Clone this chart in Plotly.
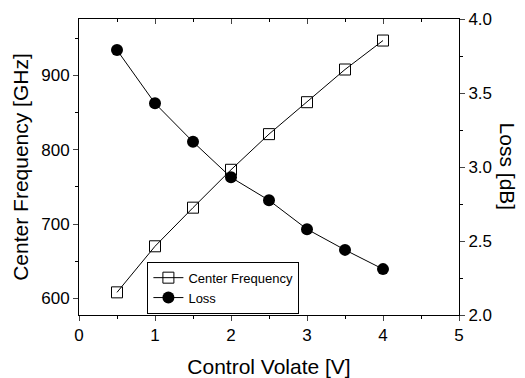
import plotly.graph_objects as go

voltage = [0.5, 1.0, 1.5, 2.0, 2.5, 3.0, 3.5, 4.0]
center_freq = [608, 670, 722, 773, 821, 864, 908, 947]
loss = [3.79, 3.43, 3.17, 2.93, 2.775, 2.58, 2.44, 2.31]

FONT = "Liberation Sans, Arial, sans-serif"

fig = go.Figure()
fig.add_trace(go.Scatter(
    x=voltage, y=center_freq, name="Center Frequency", mode="lines+markers",
    line=dict(color="black", width=1),
    marker=dict(symbol="square-open", size=11, color="black", line=dict(width=1)),
))
fig.add_trace(go.Scatter(
    x=voltage, y=loss, name="Loss", mode="lines+markers", yaxis="y2",
    line=dict(color="black", width=1),
    marker=dict(symbol="circle", size=12, color="black"),
))
# helper (empty) trace to activate top mirror axis
fig.add_trace(go.Scatter(x=[], y=[], xaxis="x2", showlegend=False, hoverinfo="skip"))

fig.update_layout(
    width=525, height=378,
    margin=dict(l=79, r=66, t=19, b=63, autoexpand=False),
    paper_bgcolor="white", plot_bgcolor="white",
    font=dict(family=FONT, color="black", size=17),
    showlegend=True,
    legend=dict(x=0.18, y=0.18, xanchor="left", yanchor="top",
                bgcolor="white", bordercolor="black", borderwidth=1,
                font=dict(size=13, family=FONT), tracegroupgap=0,
                itemwidth=30),
    xaxis=dict(
        range=[0, 5], tickvals=[0, 1, 2, 3, 4, 5], ticks="outside", ticklen=5,
        minor=dict(tickvals=[0.5, 1.5, 2.5, 3.5, 4.5], ticks="outside", ticklen=3, tickcolor="black"),
        showline=True, linecolor="black", linewidth=1, showgrid=False, zeroline=False,
        tickfont=dict(size=17), automargin=False,
        title=dict(text="Control Volate [V]", font=dict(size=21), standoff=14),
    ),
    xaxis2=dict(
        overlaying="x", side="top", range=[0, 5], showticklabels=False,
        tickvals=[0, 1, 2, 3, 4, 5], ticks="inside", ticklen=5,
        minor=dict(tickvals=[0.5, 1.5, 2.5, 3.5, 4.5], ticks="inside", ticklen=3, tickcolor="black"),
        showline=True, linecolor="black", linewidth=1, showgrid=False, zeroline=False,
        automargin=False,
    ),
    yaxis=dict(
        range=[577.5, 976], tickvals=[600, 700, 800, 900], ticks="outside", ticklen=5,
        minor=dict(tickvals=[650, 750, 850, 950], ticks="outside", ticklen=3, tickcolor="black"),
        showline=True, linecolor="black", linewidth=1, showgrid=False, zeroline=False,
        tickfont=dict(size=17), automargin=False,
        title=dict(text="Center Frequency [GHz]", font=dict(size=21), standoff=6),
    ),
    yaxis2=dict(
        overlaying="y", side="right", range=[2.0, 4.0],
        tickvals=[2.0, 2.5, 3.0, 3.5, 4.0], ticktext=["2.0", "2.5", "3.0", "3.5", "4.0"],
        ticks="outside", ticklen=5,
        minor=dict(tickvals=[2.25, 2.75, 3.25, 3.75], ticks="outside", ticklen=3, tickcolor="black"),
        showline=True, linecolor="black", linewidth=1, showgrid=False, zeroline=False,
        tickfont=dict(size=17), automargin=False,
    ),
    annotations=[dict(
        text="Loss [dB]", textangle=90, xref="paper", yref="paper",
        x=1.13, y=0.5, xanchor="center", yanchor="middle", showarrow=False,
        font=dict(size=21, family=FONT),
    )],
)

fig.write_html("out.html")
